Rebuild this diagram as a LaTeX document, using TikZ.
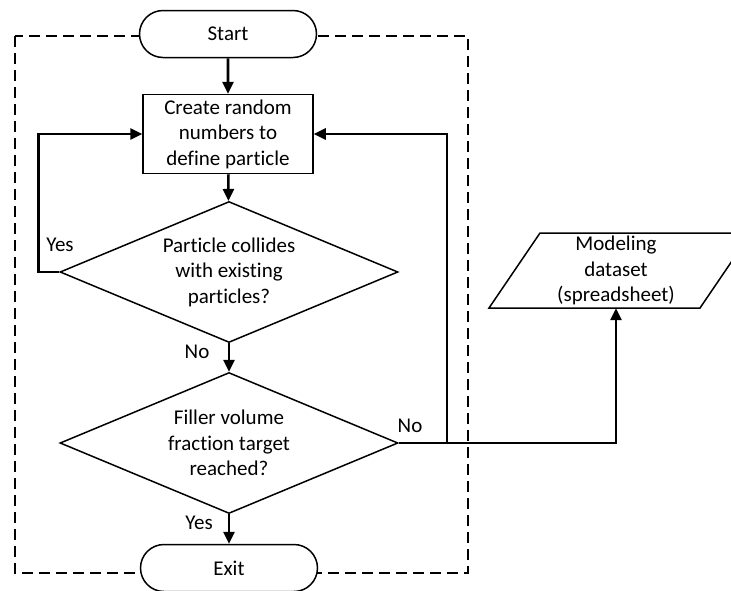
\documentclass[tikz,border=0pt]{standalone}
\usepackage{fontspec}
\setmainfont{Carlito}[Ligatures=NoCommon]
\usetikzlibrary{arrows.meta,shapes.geometric,shapes.misc}

\begin{document}
\begin{tikzpicture}[x=1pt,y=-1pt,
  every node/.style={font=\fontsize{21}{25.5}\selectfont, text=black},
  terminal/.style={rounded rectangle, draw, fill=white, line width=1.5pt,
    minimum width=177pt, minimum height=47pt, inner sep=0pt},
  process/.style={rectangle, draw, fill=white, line width=1.5pt,
    minimum width=170pt, minimum height=79pt, inner sep=0pt, align=center},
  decision/.style={diamond, draw, fill=white, line width=1.5pt,
    minimum width=338pt, minimum height=141pt, inner sep=0pt},
  txt/.style={align=center, inner sep=0pt},
  flow/.style={line width=2.6pt},
  conn/.style={flow, -{Triangle[length=12pt,width=11pt]}},
  frame/.style={dash pattern=on 11pt off 6pt, line width=1.4pt}
]
\useasboundingbox (0,0) rectangle (731,590);
\clip (0,0) rectangle (731,590);

% dashed boundary of the generation loop
\draw[frame] (15,36) rectangle (468,573);

% flowchart nodes
\node[terminal] (start) at (228,34) {Start};
\node[process] (box) at (228,134) {Create random\\numbers to\\define particle};
\node[decision] (d1) at (229,272) {};
\node[txt] (d1t) at (d1.center) {Particle collides\\with existing\\particles?};
\node[decision] (d2) at (229,443) {};
\node[txt] (d2t) at (d2.center) {Filler volume\\fraction target\\reached?};
\node[terminal] (exit) at (229,568) {Exit};

% output data (parallelogram)
\node[txt, minimum width=160pt, minimum height=75pt] (data) at (616,270.5)
  {Modeling\\dataset\\(spreadsheet)};
\draw[line width=1.5pt] (489,308) -- (700,308) -- (751,233) -- (540,233) -- cycle;

% connectors
\draw[conn] (start) -- (box);
\draw[conn] (box) -- (d1);
\draw[conn] (d1.west) -- ++(-21,0) |- (box.west);
\draw[conn] (d1.south) -- (d2.north);
\draw[conn] (d2.south) -- (exit.north);
\coordinate (split) at (447,443);
\draw[flow] (d2.east) -- (split);
\draw[conn] (split) |- (box.east);
\draw[conn] (split) -| (data.south);

% branch labels
\node[txt] (yes1) at (60,245) {Yes};
\node[txt] (no1) at (197,352) {No};
\node[txt] (no2) at (410,426) {No};
\node[txt] (yes2) at (199,523) {Yes};
\end{tikzpicture}
\end{document}
